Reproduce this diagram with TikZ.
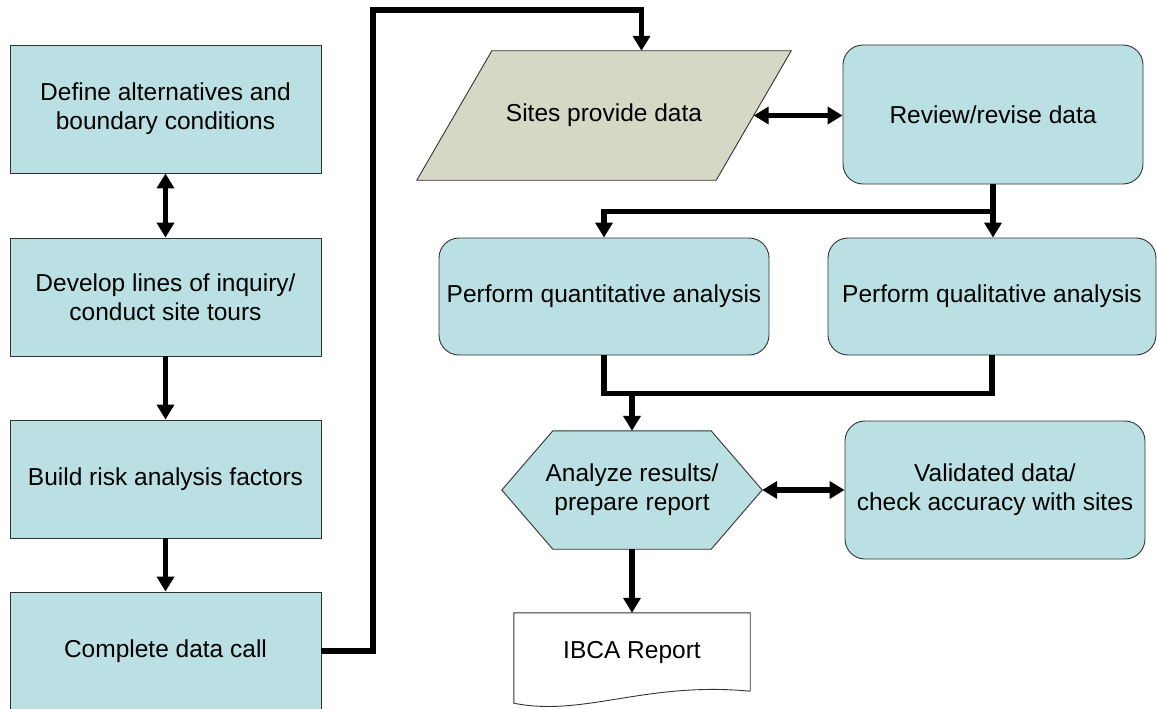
\documentclass[tikz,border=0pt]{standalone}
\usepackage{fontspec}
\setmainfont{Liberation Sans}
\usetikzlibrary{positioning, arrows.meta, calc, backgrounds}

\definecolor{boxblue}{RGB}{186,224,227}
\definecolor{sitegray}{RGB}{215,215,197}

\tikzset{
	stepbox/.style={draw=black!80, line width=0.9pt, fill=boxblue, align=center, inner sep=0pt,
		font=\fontsize{24.5}{29}\selectfont},
	squarebox/.style={stepbox, rectangle, minimum width=311pt},
	roundbox/.style={stepbox, rectangle, rounded corners=20pt},
	plainbox/.style={align=center, inner sep=0pt, font=\fontsize{24.5}{29}\selectfont},
	outline/.style={draw=black!80, line width=0.9pt},
	flow/.style={line width=5.5pt, -{Triangle[length=15pt,width=17pt]}},
	twoway/.style={line width=5.5pt, {Triangle[length=15pt,width=17pt]}-{Triangle[length=15pt,width=17pt]}},
	link/.style={line width=5.5pt}
}

\begin{document}
\begin{tikzpicture}[x=1pt, y=-1pt]
			\useasboundingbox (0,0) rectangle (1157,709);
			\node[squarebox, minimum height=128pt] (alt) at (165.5,109) {Define alternatives and\\boundary conditions};
			\node[squarebox, minimum height=118pt] (inquiry) at (165.5,297) {Develop lines of inquiry/\\conduct site tours};
			\node[squarebox, minimum height=118pt] (factors) at (165.5,479) {Build risk analysis factors};
			\node[squarebox, minimum height=118pt] (call) at (165.5,651) {Complete data call};
			\node[plainbox, minimum width=374pt, minimum height=129pt] (sites) at (604,115.5) {Sites provide data};
			\node[roundbox, minimum width=300pt, minimum height=139pt] (review) at (993,114.5) {Review/revise data};
			\node[roundbox, minimum width=330pt, minimum height=117pt] (quant) at (604,296.5) {Perform quantitative analysis};
			\node[roundbox, minimum width=328pt, minimum height=117pt] (qual) at (992,296.5) {Perform qualitative analysis};
			\node[plainbox, minimum width=260pt, minimum height=118pt] (analyze) at (632,490) {Analyze results/\\prepare report};
			\node[roundbox, minimum width=300pt, minimum height=138pt] (validated) at (995,490) {Validated data/\\check accuracy with sites};
			\node[plainbox, minimum width=236pt, minimum height=78pt] (report) at (632,652) {IBCA Report};
			\begin{scope}[on background layer]
				\draw[outline, fill=sitegray] ($(sites.north west)+(75,0)$) -- (sites.north east)
					-- ($(sites.south east)+(-75,0)$) -- (sites.south west) -- cycle;
				\draw[outline, fill=boxblue] (analyze.west) -- ($(analyze.north west)+(51,0)$) -- ($(analyze.north east)+(-51,0)$)
					-- (analyze.east) -- ($(analyze.south east)+(-51,0)$) -- ($(analyze.south west)+(51,0)$) -- cycle;
				\draw[outline, fill=white] (report.south east) -- (report.north east) -- (report.north west)
					-- ($(report.south west)+(0,12)$) .. controls ($(report.south west)+(70,26)$) and ($(report.south east)+(-105,-10)$) .. (report.south east);
			\end{scope}

			\coordinate (corner) at (373,10);
			\coordinate (sites top) at ($(sites.north)+(37.5,0)$);
			\coordinate (sites right) at ($(sites.east)+(-37.5,0)$);
			\coordinate (split) at ($(review.south)+(0,27)$);
			\coordinate (merge) at ($(quant.south)+(0,38)$);

			\draw[twoway] (alt) -- (inquiry);
			\draw[flow] (inquiry) -- (factors);
			\draw[flow] (factors) -- (call);
			\draw[flow] (call.east) -| (corner) -| (sites top);
			\draw[twoway] (sites right) -- (sites right -| review.west);
			\draw[flow] (review.south) -- (review.south |- qual.north);
			\draw[flow] (split) -| (quant.north);
			\draw[link] (quant.south) |- (merge) -| (qual.south);
			\draw[flow] (merge -| analyze.north) -- (analyze.north);
			\draw[twoway] (analyze.east) -- (analyze.east -| validated.west);
			\draw[flow] (analyze.south) -- (report.north);
		\end{tikzpicture}
\end{document}
